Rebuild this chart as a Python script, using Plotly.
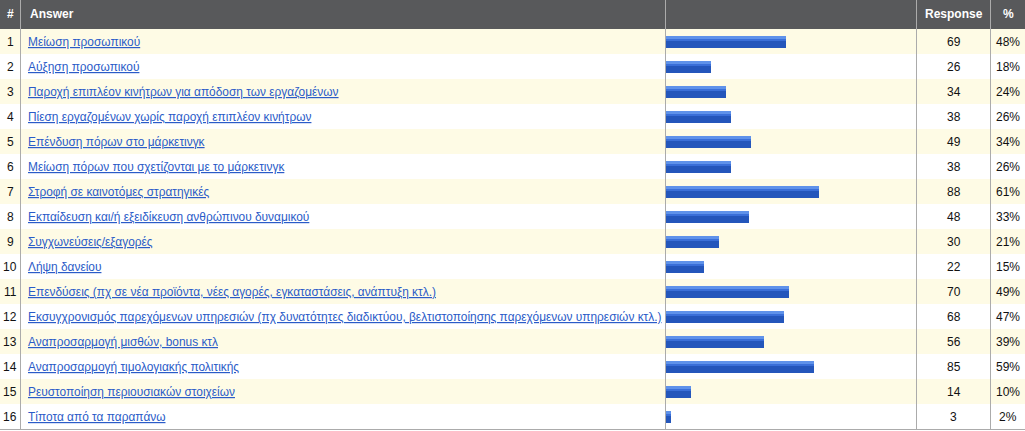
import plotly.graph_objects as go

W, H = 1025, 431

row_ids = [str(i) for i in range(1, 17)]
answers = [
    "Μείωση προσωπικού",
    "Αύξηση προσωπικού",
    "Παροχή επιπλέον κινήτρων για απόδοση των εργαζομένων",
    "Πίεση εργαζομένων χωρίς παροχή επιπλέον κινήτρων",
    "Επένδυση πόρων στο μάρκετινγκ",
    "Μείωση πόρων που σχετίζονται με το μάρκετινγκ",
    "Στροφή σε καινοτόμες στρατηγικές",
    "Εκπαίδευση και/ή εξειδίκευση ανθρώπινου δυναμικού",
    "Συγχωνεύσεις/εξαγορές",
    "Λήψη δανείου",
    "Επενδύσεις (πχ σε νέα προϊόντα, νέες αγορές, εγκαταστάσεις, ανάπτυξη κτλ.)",
    "Εκσυγχρονισμός παρεχόμενων υπηρεσιών (πχ δυνατότητες διαδικτύου, βελτιστοποίησης παρεχόμενων υπηρεσιών κτλ.)",
    "Αναπροσαρμογή μισθών, bonus κτλ",
    "Αναπροσαρμογή τιμολογιακής πολιτικής",
    "Ρευστοποίηση περιουσιακών στοιχείων",
    "Τίποτα από τα παραπάνω",
]
responses = [69, 26, 34, 38, 49, 38, 88, 48, 30, 22, 70, 68, 56, 85, 14, 3]
percents = [48, 18, 24, 26, 34, 26, 61, 33, 21, 15, 49, 47, 39, 59, 10, 2]
headers = ["#", "Answer", "Response", "%"]

FONT = "Liberation Sans, Arial, sans-serif"
HEADER_BG = "#58595b"
CREAM = "#fefbe5"
LINE = "#ababab"
LINK = "#2a5bc8"

# pixel layout helpers
def px(x):
    return x / W

def py(y):  # y from top
    return 1 - y / H

top_rows, bot_rows = 29, 429
col_lines = [20.5, 665.5, 916.5, 990.5]
bar_x0, bar_x1 = 666, 917

fig = go.Figure()

# bars with simple gradient (three overlaid layers)
fig.add_trace(go.Bar(
    x=percents, y=row_ids, orientation="h",
    marker=dict(color="#3a6fd8", line=dict(width=0)),
    width=0.48, offset=-0.24, hoverinfo="skip", showlegend=False))
fig.add_trace(go.Bar(
    x=percents, y=row_ids, orientation="h",
    marker=dict(color="#2456bb", line=dict(width=0)),
    width=0.28, offset=-0.04, hoverinfo="skip", showlegend=False))
fig.add_trace(go.Bar(
    x=percents, y=row_ids, orientation="h",
    marker=dict(color="#5f92ea", line=dict(width=0)),
    width=0.12, offset=-0.24, hoverinfo="skip", showlegend=False))

shapes = []
# header background
shapes.append(dict(type="rect", xref="paper", yref="paper", x0=0, x1=1,
                   y0=py(top_rows), y1=1, fillcolor=HEADER_BG, line_width=0, layer="below"))
# alternating row backgrounds
for i in range(len(row_ids)):
    if i % 2 == 0:
        shapes.append(dict(type="rect", xref="paper", yref="y", x0=0, x1=1,
                           y0=i - 0.5, y1=i + 0.5, fillcolor=CREAM, line_width=0, layer="below"))
# vertical column lines
for cx in col_lines:
    shapes.append(dict(type="line", xref="paper", yref="paper", x0=px(cx), x1=px(cx),
                       y0=py(bot_rows), y1=1, line=dict(color=LINE, width=1), layer="above"))
# bottom border
shapes.append(dict(type="line", xref="paper", yref="paper", x0=0, x1=1,
                   y0=py(bot_rows + 0.5), y1=py(bot_rows + 0.5), line=dict(color=LINE, width=1)))

ann = []
hy = py(14.5)
hfont = dict(family=FONT, size=12, color="white", weight="bold")
ann.append(dict(text=headers[0], x=px(10), y=hy, xanchor="center"))
ann.append(dict(text=headers[1], x=px(28), y=hy, xanchor="left"))
ann.append(dict(text=headers[2], x=px(953.5), y=hy, xanchor="center"))
ann.append(dict(text=headers[3], x=px(1008), y=hy, xanchor="center"))
for a in ann:
    a.update(xref="paper", yref="paper", yanchor="middle", showarrow=False, font=hfont)

tfont = dict(family=FONT, size=12, color="#111111")
for i, (rid, ans, r, p) in enumerate(zip(row_ids, answers, responses, percents)):
    base = dict(xref="paper", yref="y", y=i, yanchor="middle", showarrow=False)
    ann.append(dict(base, text=rid, x=px(10), xanchor="center", font=tfont))
    ann.append(dict(base, text=ans, x=px(25.5), xanchor="left",
                    font=dict(family=FONT, size=11.9, color=LINK, lineposition="under")))
    ann.append(dict(base, text=str(r), x=px(953.5), xanchor="center", font=tfont))
    ann.append(dict(base, text=f"{p}%", x=px(1007.5), xanchor="center", font=tfont))

fig.update_layout(
    width=W, height=H, margin=dict(l=0, r=0, t=0, b=0),
    paper_bgcolor="white", plot_bgcolor="rgba(0,0,0,0)",
    barmode="overlay", bargap=0,
    xaxis=dict(domain=[px(bar_x0), px(bar_x1)], range=[0, 100], visible=False, fixedrange=True),
    yaxis=dict(domain=[py(bot_rows), py(top_rows)], type="category",
               categoryorder="array", categoryarray=row_ids,
               range=[15.5, -0.5], visible=False, fixedrange=True),
    shapes=shapes, annotations=ann, showlegend=False,
)

fig.write_html("out.html", config={"displayModeBar": False})
